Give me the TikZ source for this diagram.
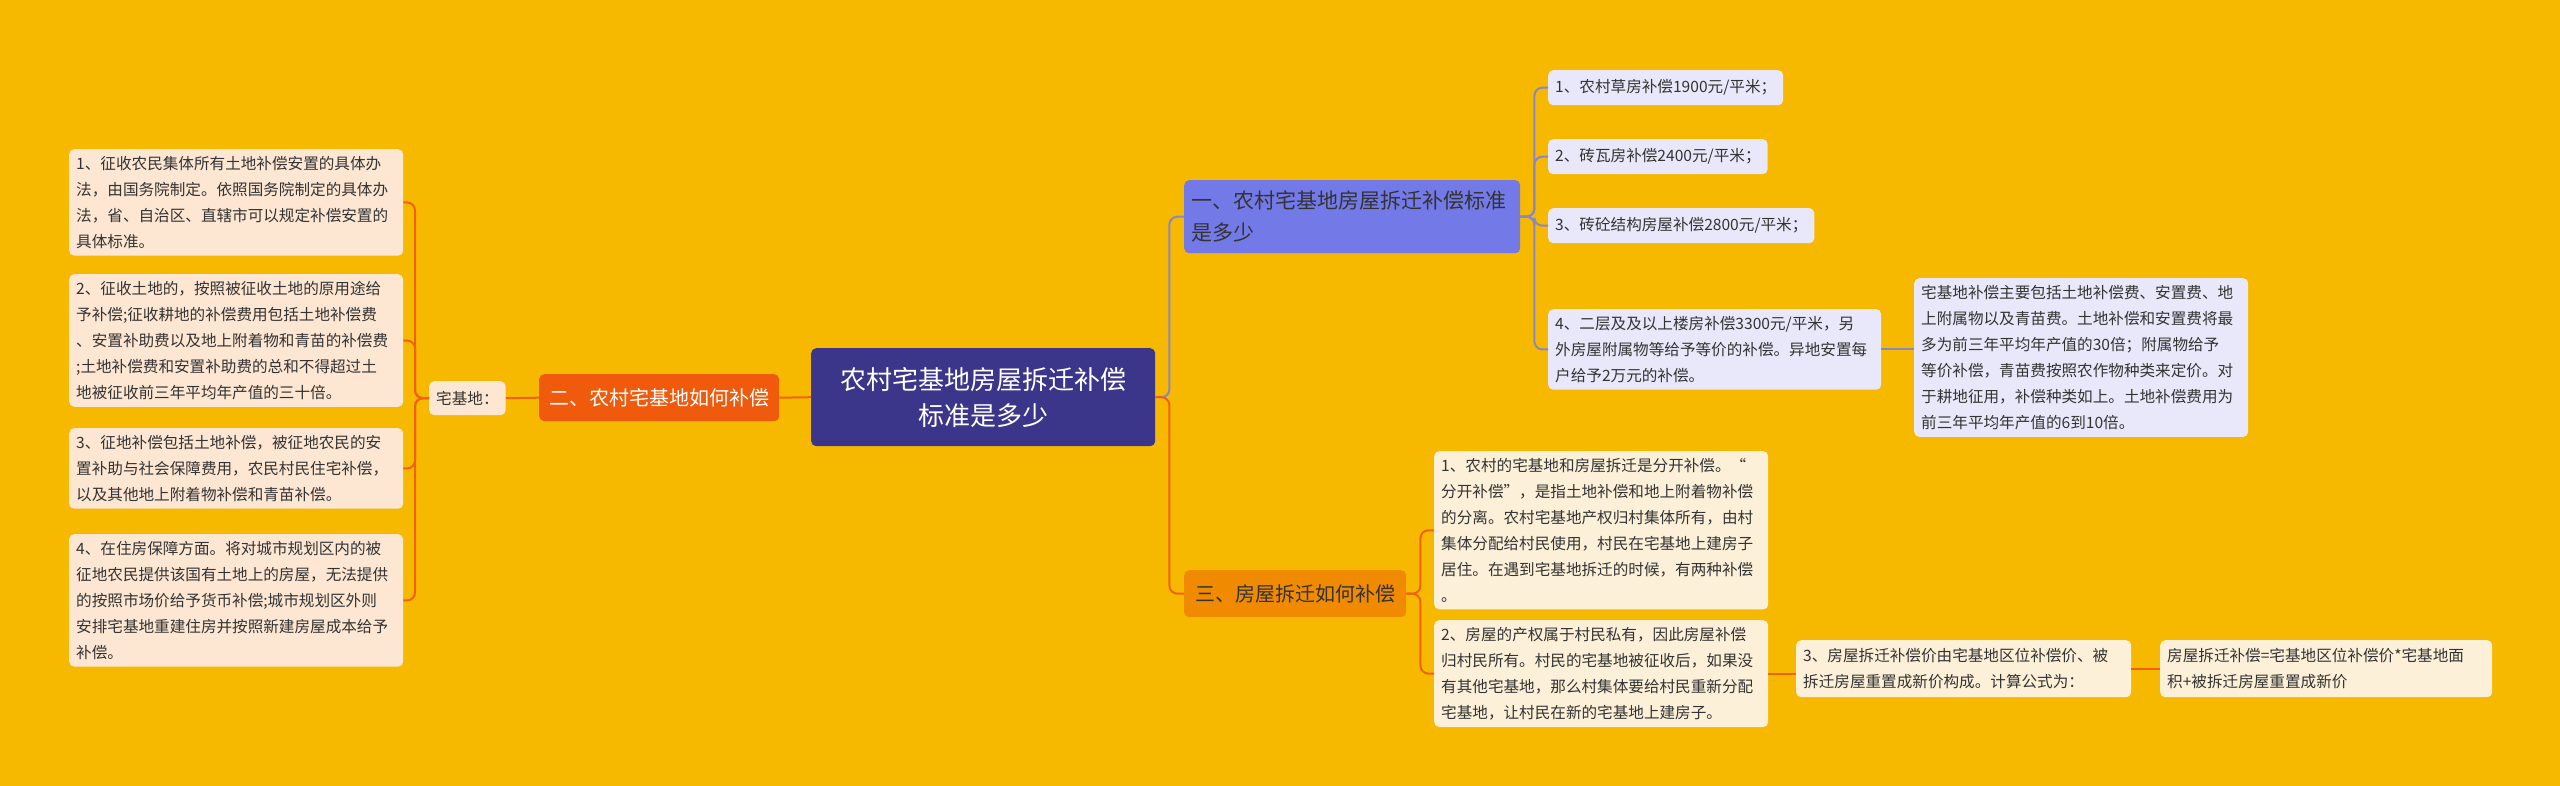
\documentclass[tikz,border=0pt]{standalone}
\usepackage{fontspec}
\setmainfont{Noto Sans CJK SC}
\definecolor{bg}{HTML}{F6B900}
\definecolor{mainc}{HTML}{3B3689}
\definecolor{bluec}{HTML}{7479E8}
\definecolor{blueleaf}{HTML}{E8E8FA}
\definecolor{bline}{HTML}{8A86C8}
\definecolor{redc}{HTML}{F05A0C}
\definecolor{oranc}{HTML}{F08A00}
\definecolor{peach}{HTML}{FDE6D2}
\definecolor{cream}{HTML}{FDF0D8}
\definecolor{oline}{HTML}{F0620E}
\definecolor{txt}{HTML}{333333}
\begin{document}
\begin{tikzpicture}[x=1pt,y=-1pt,
 box/.style={anchor=north west,rounded corners=5pt,inner sep=7pt,align=left,font=\fontsize{15.6}{26}\selectfont,text=txt},
 bleaf/.style={box,fill=blueleaf},
 pleaf/.style={box,fill=peach},
 cleaf/.style={box,fill=cream},
 bcon/.style={draw=bline,line width=2pt,rounded corners=8pt},
 ocon/.style={draw=oline,line width=2pt,rounded corners=8pt}]
\useasboundingbox (0,0) rectangle (2560,786);
\fill[bg] (0,0) rectangle (2560,786);
% main
\node[box,fill=mainc,text=white,align=center,text width=330pt,minimum height=98pt,font=\fontsize{26}{36}\selectfont] (main) at (811,348) {农村宅基地房屋拆迁补偿\\标准是多少};
% branch 1
\node[box,fill=bluec,text width=322pt,minimum height=73pt,font=\fontsize{21}{32}\selectfont] (b1) at (1184,180) {一、农村宅基地房屋拆迁补偿标准\\是多少};
\node[bleaf,minimum height=35pt] (l1) at (1548,70) {1、农村草房补偿1900元/平米；};
\node[bleaf,minimum height=35pt] (l2) at (1548,139) {2、砖瓦房补偿2400元/平米；};
\node[bleaf,minimum height=35pt] (l3) at (1548,208) {3、砖砼结构房屋补偿2800元/平米；};
\node[bleaf,text width=319pt] (l4) at (1548,309) {4、二层及及以上楼房补偿3300元/平米，另\\外房屋附属物等给予等价的补偿。异地安置每\\户给予2万元的补偿。};
\node[bleaf,text width=320pt] (l5) at (1914,278) {宅基地补偿主要包括土地补偿费、安置费、地\\上附属物以及青苗费。土地补偿和安置费将最\\多为前三年平均年产值的30倍；附属物给予\\等价补偿，青苗费按照农作物种类来定价。对\\于耕地征用，补偿种类如上。土地补偿费用为\\前三年平均年产值的6到10倍。};
% branch 2
\node[box,fill=redc,text=white,minimum width=240pt,minimum height=47pt,font=\fontsize{20}{28}\selectfont] (b2) at (539,374) {二、农村宅基地如何补偿};
\node[pleaf,minimum height=34pt] (z) at (429,381) {宅基地：};
\node[pleaf,text width=320pt] (p1) at (69,149) {1、征收农民集体所有土地补偿安置的具体办\\法，由国务院制定。依照国务院制定的具体办\\法，省、自治区、直辖市可以规定补偿安置的\\具体标准。};
\node[pleaf,text width=320pt] (p2) at (69,274) {2、征收土地的，按照被征收土地的原用途给\\予补偿;征收耕地的补偿费用包括土地补偿费\\、安置补助费以及地上附着物和青苗的补偿费\\;土地补偿费和安置补助费的总和不得超过土\\地被征收前三年平均年产值的三十倍。};
\node[pleaf,text width=320pt] (p3) at (69,428) {3、征地补偿包括土地补偿，被征地农民的安\\置补助与社会保障费用，农民村民住宅补偿，\\以及其他地上附着物补偿和青苗补偿。};
\node[pleaf,text width=320pt] (p4) at (69,534) {4、在住房保障方面。将对城市规划区内的被\\征地农民提供该国有土地上的房屋，无法提供\\的按照市场价给予货币补偿;城市规划区外则\\安排宅基地重建住房并按照新建房屋成本给予\\补偿。};
% branch 3
\node[box,fill=oranc,minimum width=222pt,minimum height=47pt,font=\fontsize{20}{28}\selectfont] (b3) at (1184,570) {三、房屋拆迁如何补偿};
\node[cleaf,text width=320pt] (c1) at (1434,451) {1、农村的宅基地和房屋拆迁是分开补偿。“\\分开补偿”，是指土地补偿和地上附着物补偿\\的分离。农村宅基地产权归村集体所有，由村\\集体分配给村民使用，村民在宅基地上建房子\\居住。在遇到宅基地拆迁的时候，有两种补偿\\。};
\node[cleaf,text width=320pt] (c2) at (1434,620) {2、房屋的产权属于村民私有，因此房屋补偿\\归村民所有。村民的宅基地被征收后，如果没\\有其他宅基地，那么村集体要给村民重新分配\\宅基地，让村民在新的宅基地上建房子。};
\node[cleaf,text width=321pt,minimum height=57pt] (c3) at (1796,640) {3、房屋拆迁补偿价由宅基地区位补偿价、被\\拆迁房屋重置成新价构成。计算公式为：};
\node[cleaf,text width=318pt,minimum height=57pt] (c4) at (2160,640) {房屋拆迁补偿=宅基地区位补偿价*宅基地面\\积+被拆迁房屋重置成新价};
% connectors
\draw[bcon] (main.east) -- ++(14,0) |- (b1.west);
\draw[ocon] (main.east) -- ++(14,0) |- (b3.west);
\foreach \n in {l1,l2,l3,l4} \draw[bcon] (b1.east) -- ++(14,0) |- (\n.west);
\draw[bcon] (l4.east) -- (l4.east -| l5.west);
\draw[ocon] (main.west) -- (b2.east);
\draw[ocon] (b2.west) -- (z.east);
\foreach \n in {p1,p2,p3,p4} \draw[ocon] (z.west) -- ++(-14,0) |- (\n.east);
\foreach \n in {c1,c2} \draw[ocon] (b3.east) -- ++(14,0) |- (\n.west);
\draw[ocon] (c2.east) -- (c2.east -| c3.west);
\draw[ocon] (c3.east) -- (c4.west);
\end{tikzpicture}
\end{document}
